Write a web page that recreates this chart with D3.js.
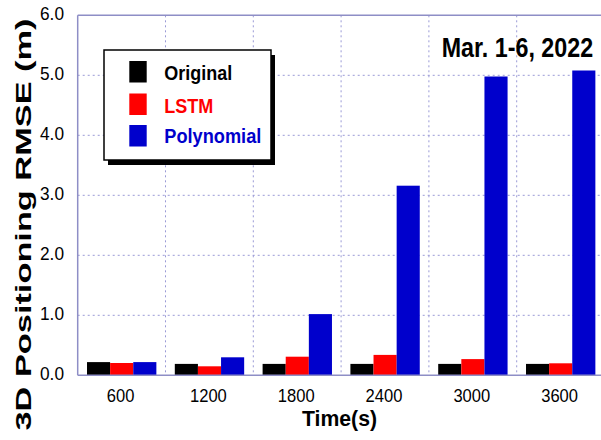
<!DOCTYPE html>
<html><head><meta charset="utf-8">
<script src="https://cdn.jsdelivr.net/npm/d3@7"></script>
<style>body{margin:0;background:#fff}svg{display:block}text{font-family:"Liberation Sans",Arial,sans-serif}</style>
</head><body><svg id="c" width="601" height="440"></svg>
<script>
const categories = ["600","1200","1800","2400","3000","3600"];
const seriesNames = ["Original","LSTM","Polynomial"];
const original = [0.22, 0.19, 0.19, 0.19, 0.19, 0.19];
const lstm = [0.205, 0.15, 0.31, 0.34, 0.27, 0.20];
const polynomial = [0.22, 0.30, 1.02, 3.16, 4.98, 5.08];
const yTicks = [0,1,2,3,4,5,6];
const yTickLabels = ["0.0","1.0","2.0","3.0","4.0","5.0","6.0"];
const colors = ["#000000","#ff0000","#0000cc"];

const series = [original, lstm, polynomial];
const svg = d3.select("#c");
const L = 77.7, R = 604.5, T = 15.3, B = 375.3;
const x = d3.scaleBand().domain(categories).range([L, R]).padding(0);
const step = x.bandwidth();
const xs = d3.scaleBand().domain(seriesNames).range([step*0.106, step*0.896]).padding(0);
const y = d3.scaleLinear().domain([0,6]).range([B, T]);
const gridCol = "#9a9ad6", frameCol = "#8e8ec6";

// grid
const g = svg.append("g");
g.selectAll("line.h").data(yTicks.slice(1,6)).join("line")
  .attr("x1", L).attr("x2", 601).attr("y1", d=>y(d)).attr("y2", d=>y(d))
  .attr("stroke", gridCol).attr("stroke-width",1).attr("stroke-dasharray","2,3");
g.selectAll("line.v").data(categories.slice(1)).join("line")
  .attr("x1", d=>x(d)).attr("x2", d=>x(d)).attr("y1", T).attr("y2", B)
  .attr("stroke", gridCol).attr("stroke-width",1).attr("stroke-dasharray","2,3");

// bars
categories.forEach((c, i) => {
  series.forEach((s, j) => {
    svg.append("rect")
      .attr("x", x(c) + xs(seriesNames[j]))
      .attr("y", y(s[i]))
      .attr("width", xs.bandwidth())
      .attr("height", y(0) - y(s[i]))
      .attr("fill", colors[j]);
  });
});

// frame
svg.append("line").attr("x1",L).attr("x2",601).attr("y1",T).attr("y2",T).attr("stroke",frameCol).attr("stroke-width",1.5);
svg.append("line").attr("x1",L).attr("x2",601).attr("y1",B).attr("y2",B).attr("stroke",frameCol).attr("stroke-width",1.5);
svg.append("line").attr("x1",L).attr("x2",L).attr("y1",T).attr("y2",B).attr("stroke",frameCol).attr("stroke-width",1.5);

// y tick labels
svg.selectAll("text.yt").data(yTicks).join("text")
  .attr("x", 64).attr("y", d => y(d) + 4.5)
  .attr("text-anchor","end").attr("font-size",18).attr("fill","#000")
  .attr("textLength", 24).attr("lengthAdjust","spacingAndGlyphs")
  .text((d,i)=>yTickLabels[i]);

// x tick labels
svg.selectAll("text.xt").data(categories).join("text")
  .attr("x", d => x(d) + step/2 - 1 - d.length*4.6).attr("y", 401.7)
  .attr("font-size",18.5).attr("fill","#000")
  .attr("textLength", d => d.length*9.2).attr("lengthAdjust","spacingAndGlyphs")
  .text(d=>d);

// axis titles
svg.append("text").attr("x",302).attr("y",425.7).attr("font-size",22).attr("font-weight","bold")
  .attr("textLength",75).attr("lengthAdjust","spacingAndGlyphs").text("Time(s)");
svg.append("text").attr("transform","translate(31,430.5) rotate(-90)")
  .attr("font-size",21.5).attr("font-weight","bold")
  .attr("textLength",412).attr("lengthAdjust","spacingAndGlyphs").text("3D Positioning RMSE (m)");

// title annotation
svg.append("text").attr("transform","translate(441.7,56.7) scale(1,1.15)")
  .attr("font-size",23.3).attr("font-weight","bold").text("Mar. 1-6, 2022");

// legend
const lg = svg.append("g");
lg.append("rect").attr("x",108).attr("y",55).attr("width",167).attr("height",110).attr("fill","#000");
lg.append("rect").attr("x",104).attr("y",50).attr("width",167).attr("height",110).attr("fill","#fff").attr("stroke","#000").attr("stroke-width",1.5);
const lgTop = [61, 93.5, 125];
const lgBase = [80, 112.7, 143.3];
const lgLen = [68, 49, 97];
seriesNames.forEach((n,j) => {
  lg.append("rect").attr("x",129.3).attr("y",lgTop[j]).attr("width",17.4).attr("height",21.5).attr("fill",colors[j]);
  lg.append("text").attr("x",164.3).attr("y",lgBase[j]).attr("font-size",21).attr("font-weight","bold")
    .attr("fill",colors[j]).attr("textLength",lgLen[j]).attr("lengthAdjust","spacingAndGlyphs").text(n);
});
</script></body></html>
